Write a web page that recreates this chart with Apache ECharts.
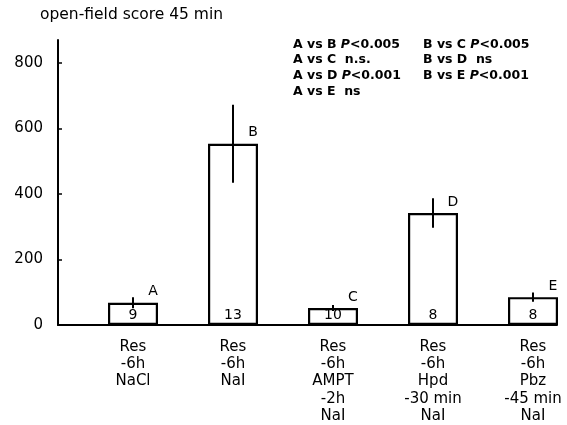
<!DOCTYPE html>
<html>
<head>
<meta charset="utf-8">
<script src="https://cdn.jsdelivr.net/npm/echarts@6/dist/echarts.min.js"></script>
<style>html,body{margin:0;padding:0;background:#fff}#c{width:567px;height:425px}</style>
</head>
<body>
<div id="c"></div>
<script>
var categories = ['Res\n-6h\nNaCl', 'Res\n-6h\nNaI', 'Res\n-6h\nAMPT\n-2h\nNaI', 'Res\n-6h\nHpd\n-30 min\nNaI', 'Res\n-6h\nPbz\n-45 min\nNaI'];
var groupLetters = ['A', 'B', 'C', 'D', 'E'];
var scores = [68, 553, 52, 342, 85];
var errors = [17, 119, 9, 45, 14];
var nValues = ['9', '13', '10', '8', '8'];
var yTicks = [0, 200, 400, 600, 800];
var yMax = 870;
var comparisons = [
  ['A vs B ', 'P', '<0.005'],
  ['A vs C  n.s.', '', ''],
  ['A vs D ', 'P', '<0.001'],
  ['A vs E  ns', '', ''],
  ['B vs C ', 'P', '<0.005'],
  ['B vs D  ns', '', ''],
  ['B vs E ', 'P', '<0.001']
];

var FONT = 'DejaVu Sans';
var chart = echarts.init(document.getElementById('c'), null, {renderer: 'canvas'});

var errData = scores.map(function (v, i) { return [i, v - errors[i], v + errors[i]]; });

var graphics = [{
  type: 'text', left: 40, top: 7,
  style: {text: 'open-field score 45 min', fontFamily: FONT, fontSize: 15.5, fill: '#000'}
}];
comparisons.forEach(function (c, i) {
  var col = i < 4 ? 0 : 1;
  var row = i < 4 ? i : i - 4;
  var txt = '{a|' + c[0] + '}' + (c[1] ? '{p|' + c[1] + '}{a|' + c[2] + '}' : '');
  graphics.push({
    type: 'text', left: col === 0 ? 293 : 423, top: 38 + row * 15.7,
    style: {
      text: txt, fill: '#000',
      rich: {
        a: {fontFamily: FONT, fontSize: 12.5, fontWeight: 'bold', fill: '#000'},
        p: {fontFamily: FONT, fontSize: 12.5, fontStyle: 'italic', fontWeight: 'bold', fill: '#000'}
      }
    }
  });
});

chart.setOption({
  animation: false,
  backgroundColor: '#fff',
  graphic: graphics,
  grid: [
    {left: 58, right: 10, top: 40, bottom: 100, outerBoundsMode: 'none'},
    {left: 83, width: 500, top: 40, bottom: 100, outerBoundsMode: 'none'}
  ],
  xAxis: [
    {gridIndex: 0, type: 'value', min: 0, max: 1,
      axisLine: {show: true, onZero: false, lineStyle: {color: '#000', width: 2}},
      axisTick: {show: false}, axisLabel: {show: false}, splitLine: {show: false}},
    {gridIndex: 1, type: 'category', data: categories,
      axisLine: {show: false}, axisTick: {show: false},
      axisLabel: {interval: 0, margin: 13, fontFamily: FONT, fontSize: 15, lineHeight: 17.4, color: '#000'}}
  ],
  yAxis: [
    {gridIndex: 0, type: 'value', min: 0, max: yMax,
      axisLine: {show: true, lineStyle: {color: '#000', width: 2}},
      axisTick: {show: true, inside: true, length: 4, customValues: yTicks, lineStyle: {color: '#000', width: 1.5}},
      axisLabel: {customValues: yTicks, margin: 15, fontFamily: FONT, fontSize: 15, color: '#000'},
      splitLine: {show: false}},
    {gridIndex: 1, type: 'value', min: 0, max: yMax, show: false, splitLine: {show: false}}
  ],
  series: [
    {
      type: 'bar', xAxisIndex: 1, yAxisIndex: 1, data: scores, barWidth: 50,
      itemStyle: {color: '#fff', borderColor: '#000', borderWidth: 2.2},
      label: {show: true, position: 'top', distance: 4, offset: [20, 0],
        formatter: function (p) { return groupLetters[p.dataIndex]; },
        fontFamily: FONT, fontSize: 14, color: '#000'},
      z: 2
    },
    {
      type: 'bar', xAxisIndex: 1, yAxisIndex: 1, data: scores, barWidth: 50, barGap: '-100%',
      itemStyle: {color: 'rgba(0,0,0,0)', borderWidth: 0},
      label: {show: true, position: 'insideBottom', distance: 3,
        formatter: function (p) { return nValues[p.dataIndex]; },
        fontFamily: FONT, fontSize: 14, color: '#000'},
      z: 3
    },
    {
      type: 'custom', xAxisIndex: 1, yAxisIndex: 1, data: errData, z: 4,
      encode: {x: 0, y: [1, 2]},
      renderItem: function (params, api) {
        var lo = api.coord([api.value(0), api.value(1)]);
        var hi = api.coord([api.value(0), api.value(2)]);
        return {type: 'line', shape: {x1: lo[0], y1: lo[1], x2: hi[0], y2: hi[1]},
          style: {stroke: '#000', lineWidth: 2}};
      }
    }
  ]
});
</script>
</body>
</html>
